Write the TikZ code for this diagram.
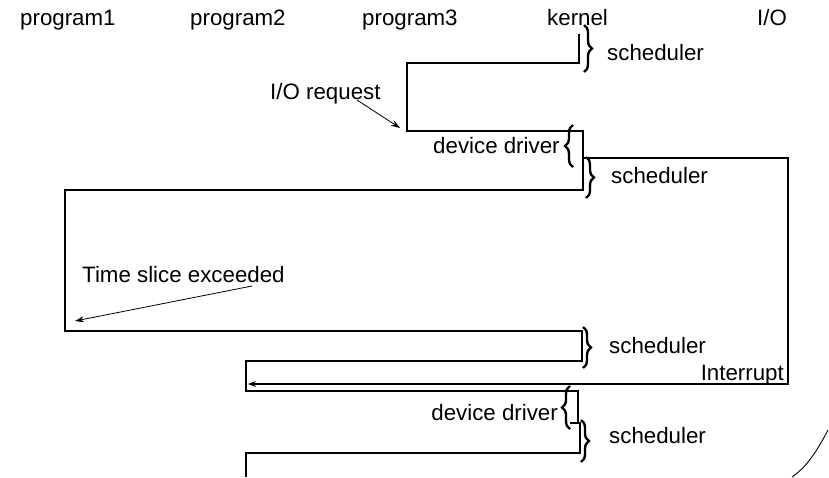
\documentclass[tikz,border=0pt]{standalone}
\usepackage{fontspec}
\setmainfont{Liberation Sans}
\usetikzlibrary{decorations.pathreplacing,arrows.meta}
\begin{document}
\begin{tikzpicture}[x=1pt,y=-1pt,
  tl/.style={line width=1.6pt,line join=miter},
  thinarrow/.style={line width=0.8pt,-{Stealth[length=9pt,width=6pt]}},
  lbl/.style={font=\fontsize{22.3}{25}\selectfont,inner sep=0pt,anchor=base west},
  brc/.style={decorate,decoration={brace,amplitude=8pt,aspect=0.5},line width=2.4pt}]
\useasboundingbox (0,0) rectangle (829,477);
% headers
\node[lbl] (p1) at (20,25) {program1};
\node[lbl] (p2) at (190,25) {program2};
\node[lbl] (p3) at (362,25) {program3};
\node[lbl] (k) at (547,25) {kernel};
\node[lbl] (io) at (757,25) {I/O};
% labels
\node[lbl] (s1) at (607,60) {scheduler};
\node[lbl] (ior) at (270,99) {I/O request};
\node[lbl] (dd1) at (433,153) {device driver};
\node[lbl] (s2) at (611,183) {scheduler};
\node[lbl] (ts) at (82,282) {Time slice exceeded};
\node[lbl] (s3) at (609,353) {scheduler};
\node[lbl,anchor=base east] (int) at (784,380) {Interrupt};
\node[lbl,anchor=base east] (dd2) at (558,420) {device driver};
\node[lbl] (s4) at (609,443) {scheduler};
% timeline coordinates
\coordinate (a0) at (579,34);
\coordinate (a1) at (579,63);
\coordinate (a2) at (407,63);
\coordinate (a3) at (407,131);
\coordinate (a4) at (583,131);
\coordinate (a5) at (583,190);
\coordinate (a6) at (65,190);
\coordinate (a7) at (65,331);
\coordinate (a8) at (582,331);
\coordinate (a9) at (582,361);
\coordinate (a10) at (246,361);
\coordinate (a11) at (246,391);
\coordinate (a12) at (578,391);
\coordinate (a13) at (578,423);
\coordinate (a14) at (570,423);
\coordinate (a15) at (580,423);
\coordinate (a16) at (580,453);
\coordinate (a17) at (246,453);
\coordinate (a18) at (246,477);
\draw[tl] (a0) -- (a1) -- (a2) -- (a3) -- (a4) -- (a5) -- (a6) -- (a7) -- (a8) -- (a9) -- (a10) -- (a11) -- (a12) -- (a13);
\draw[tl] (a14) -- (a15) -- (a16) -- (a17) -- (a18);
% I/O box
\coordinate (b0) at (583,158);
\coordinate (b1) at (788,158);
\coordinate (b2) at (788,384);
\coordinate (b3) at (248,384);
\draw[tl,-{Stealth[length=8pt,width=6pt]}] (b0) -- (b1) -- (b2) -- (b3);
% braces
\draw[brc] (584,25) -- (584,72);
\draw[brc] (573,167) -- (573,125);
\draw[brc] (586,157) -- (586,198);
\draw[brc] (583,327) -- (583,368);
\draw[brc] (570,429) -- (570,386);
\draw[brc] (581,420) -- (581,462);
% thin arrows
\coordinate (r0) at (357,100);
\coordinate (r1) at (400,128);
\draw[thinarrow] (r0) -- (r1);
\coordinate (t0) at (252,286);
\coordinate (t1) at (75,321);
\draw[thinarrow] (t0) -- (t1);
% arc
\coordinate (c0) at (828,430);
\coordinate (c1) at (792,477);
\draw[line width=0.9pt] (c0) .. controls (815,455) and (805,468) .. (c1);
\end{tikzpicture}
\end{document}
